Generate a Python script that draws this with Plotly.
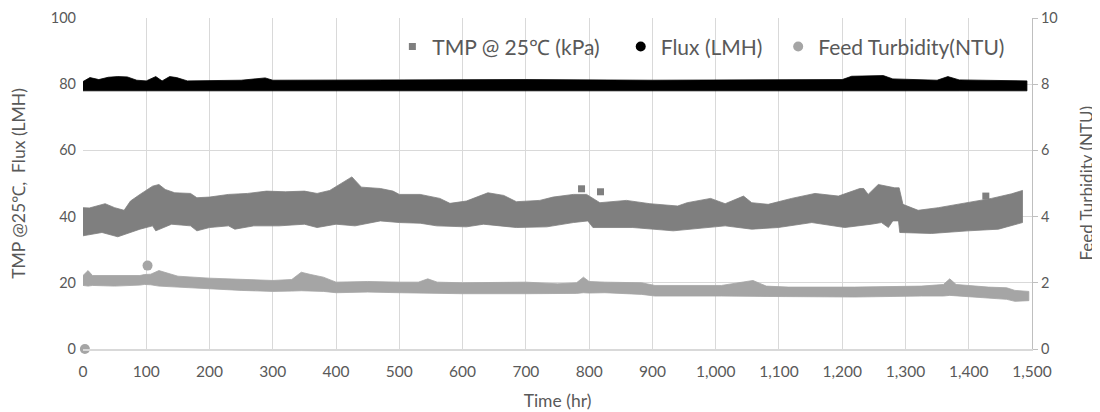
import plotly.graph_objects as go

# ---------------- data ----------------
# TMP @ 25°C (kPa) – visible extent of the dense scatter band
tmp_hi_t = [0, 10, 35, 50, 65, 75, 90, 110, 120, 130, 145, 170, 180, 200, 230, 260, 290, 320, 350, 370,
            390, 410, 425, 440, 470, 490, 500, 533, 564, 580, 606, 640, 665, 685, 722, 743, 775, 796, 817,
            859, 896, 940, 955, 992, 1015, 1044, 1057, 1083, 1120, 1157, 1194, 1228, 1234, 1241, 1257,
            1283, 1290, 1296, 1320, 1352, 1394, 1436, 1468, 1485]
tmp_hi = [42.7, 42.6, 43.9, 42.7, 41.9, 44.7, 46.7, 49.2, 49.7, 48.2, 47.2, 47.0, 45.7, 45.9, 46.7, 47.0,
          47.7, 47.5, 47.7, 47.0, 47.9, 50.2, 52.0, 48.9, 48.5, 47.7, 46.7, 46.7, 45.5, 44.0, 44.7, 47.2,
          46.4, 44.5, 44.9, 45.9, 46.7, 46.7, 44.2, 44.9, 43.9, 43.2, 44.2, 45.5, 43.9, 46.2, 44.2, 43.7,
          45.5, 47.0, 46.2, 48.5, 48.5, 46.7, 49.7, 48.7, 48.7, 43.7, 41.9, 42.7, 44.2, 45.5, 46.9, 47.9]
tmp_lo_t = [0, 30, 55, 70, 90, 110, 115, 140, 170, 180, 200, 230, 240, 270, 310, 350, 370, 400, 430, 470,
            500, 533, 559, 606, 633, 685, 733, 775, 798, 806, 869, 933, 975, 1015, 1057, 1099, 1152, 1204,
            1246, 1262, 1273, 1280, 1289, 1291, 1341, 1399, 1447, 1485]
tmp_lo = [34.2, 35.2, 33.9, 34.9, 36.2, 37.2, 35.7, 37.7, 37.2, 35.7, 36.7, 37.2, 36.2, 37.2, 37.2, 37.7,
          36.7, 37.7, 37.2, 38.7, 38.2, 38.0, 37.2, 36.9, 37.7, 36.7, 36.9, 38.2, 38.7, 36.7, 36.7, 35.7,
          36.4, 37.2, 36.2, 36.7, 38.2, 36.7, 37.7, 38.2, 36.7, 38.7, 38.7, 35.2, 34.9, 35.7, 36.2, 38.2]
tmp_out_t = [788, 818, 1427]
tmp_out = [48.4, 47.5, 46.2]

# Flux (LMH) – visible extent of the band
flux_t = [0, 11, 25, 40, 55, 70, 85, 100, 115, 125, 137, 148, 165, 250, 288, 300, 500, 700, 900, 1100,
          1200, 1215, 1240, 1265, 1280, 1350, 1367, 1385, 1492]
flux_hi = [80.8, 82.0, 81.4, 82.1, 82.3, 82.2, 81.2, 81.0, 82.3, 81.0, 82.3, 82.0, 81.0, 81.2, 81.9, 81.2,
           81.3, 81.4, 81.2, 81.3, 81.4, 82.4, 82.6, 82.6, 81.6, 81.2, 82.3, 81.3, 81.0]
flux_lo = [78.0, 78.0, 78.0, 77.9, 78.0, 78.0, 78.0, 78.1, 78.0, 78.0, 78.0, 78.0, 78.0, 78.0, 78.0, 78.0,
           77.9, 78.0, 78.0, 78.0, 78.0, 78.0, 78.0, 78.0, 78.0, 78.0, 78.0, 78.0, 78.0]

# Feed Turbidity (NTU) – visible extent of the band
turb_t = [0, 8, 15, 50, 90, 97, 107, 120, 150, 200, 250, 300, 330, 345, 360, 380, 400, 450, 500, 530,
          545, 560, 600, 700, 750, 780, 791, 800, 825, 883, 904, 1009, 1059, 1080, 1115, 1220, 1325,
          1360, 1370, 1380, 1431, 1460, 1473, 1495]
turb_hi = [2.22, 2.37, 2.22, 2.22, 2.22, 2.25, 2.26, 2.37, 2.20, 2.14, 2.10, 2.07, 2.10, 2.32, 2.25, 2.17,
           2.02, 2.04, 2.02, 2.02, 2.12, 2.02, 2.00, 2.02, 1.97, 2.00, 2.17, 2.04, 2.02, 2.00, 1.92, 1.92,
           2.07, 1.90, 1.87, 1.87, 1.90, 1.95, 2.12, 1.95, 1.87, 1.85, 1.77, 1.74]
turb_lo = [1.92, 1.90, 1.92, 1.90, 1.93, 1.95, 1.94, 1.90, 1.87, 1.82, 1.77, 1.74, 1.75, 1.76, 1.76, 1.74,
           1.70, 1.72, 1.70, 1.70, 1.69, 1.69, 1.67, 1.67, 1.67, 1.68, 1.70, 1.69, 1.70, 1.65, 1.60, 1.60,
           1.59, 1.58, 1.57, 1.57, 1.60, 1.60, 1.62, 1.60, 1.54, 1.50, 1.44, 1.46]
turb_out_t = [3, 102]
turb_out = [0.0, 2.52]

x_ticks = list(range(0, 1501, 100))

# ---------------- styling ----------------
C_TMP = "#7f7f7f"
C_FLUX = "#000000"
C_TURB = "#a5a5a5"
TXT = "#595959"
GRID = "#d9d9d9"
FONT = "Lato, 'Open Sans', sans-serif"

fig = go.Figure()


def band(t_hi, hi, t_lo, lo, color, yaxis="y"):
    return go.Scatter(
        x=list(t_hi) + list(t_lo)[::-1],
        y=list(hi) + list(lo)[::-1],
        mode="lines", fill="toself", fillcolor=color,
        line=dict(width=0.8, color=color),
        hoverinfo="skip", showlegend=False, yaxis=yaxis,
    )


fig.add_trace(band(tmp_hi_t, tmp_hi, tmp_lo_t, tmp_lo, C_TMP))
fig.add_trace(band(flux_t, flux_hi, flux_t, flux_lo, C_FLUX))
fig.add_trace(band(turb_t, turb_hi, turb_t, turb_lo, C_TURB, yaxis="y2"))

fig.add_trace(go.Scatter(
    x=tmp_out_t, y=tmp_out, mode="markers", name="TMP @ 25\u2103 (kPa)\u00a0\u00a0\u00a0",
    marker=dict(symbol="square", size=7, color=C_TMP),
))
fig.add_trace(go.Scatter(
    x=[None], y=[None], mode="markers", name="Flux (LMH)\u00a0\u00a0",
    marker=dict(symbol="circle", size=10, color=C_FLUX),
))
fig.add_trace(go.Scatter(
    x=turb_out_t, y=turb_out, mode="markers", name="Feed Turbidity(NTU)",
    marker=dict(symbol="circle", size=10, color=C_TURB), yaxis="y2", cliponaxis=False,
))

# the page adds an 8px body margin, so margins are offset to land the plot at the reference position
fig.update_layout(
    width=1100, height=412,
    margin=dict(l=75, r=76, t=10, b=71, autoexpand=False),
    paper_bgcolor="white", plot_bgcolor="white",
    font=dict(family=FONT, size=15, color=TXT),
    showlegend=True,
    legend=dict(orientation="h", x=0.326, y=0.913, xanchor="left", yanchor="middle",
                font=dict(size=21, color=TXT), bgcolor="rgba(0,0,0,0)",
                itemwidth=30, tracegroupgap=0),
    xaxis=dict(
        range=[0, 1500], tickvals=x_ticks, tickformat=",d", automargin=False,
        showgrid=True, gridcolor=GRID, gridwidth=1,
        zeroline=False, showline=True, linecolor=GRID, linewidth=1.5,
        ticks="", ticklabelstandoff=8, tickfont=dict(size=15.5, color=TXT),
        ticklabeloverflow="allow",
        title=dict(text="Time (hr)", font=dict(size=17.5, color=TXT), standoff=15),
    ),
    yaxis=dict(
        range=[0, 100], dtick=20, automargin=False,
        showgrid=True, gridcolor=GRID, gridwidth=1,
        zeroline=False, showline=False, ticks="", ticklabelstandoff=6,
        tickfont=dict(size=14.5, color=TXT), ticklabeloverflow="allow",
        title=dict(text="TMP @25\u2103,  Flux (LMH)", font=dict(size=17.5, color=TXT), standoff=29),
    ),
    yaxis2=dict(
        range=[0, 10], dtick=2, overlaying="y", side="right", automargin=False,
        showgrid=False, zeroline=False,
        showline=True, linecolor="#bfbfbf", linewidth=1,
        ticks="outside", ticklen=5, tickcolor="#bfbfbf",
        tickfont=dict(size=14.5, color=TXT), ticklabeloverflow="allow",
    ),
    annotations=[dict(
        text="Feed Turbidity (NTU)", xref="paper", yref="paper", x=1.057, y=0.5,
        xanchor="center", yanchor="middle", textangle=-90, showarrow=False,
        font=dict(size=17, color=TXT),
    )],
)

fig.write_html("out.html")
